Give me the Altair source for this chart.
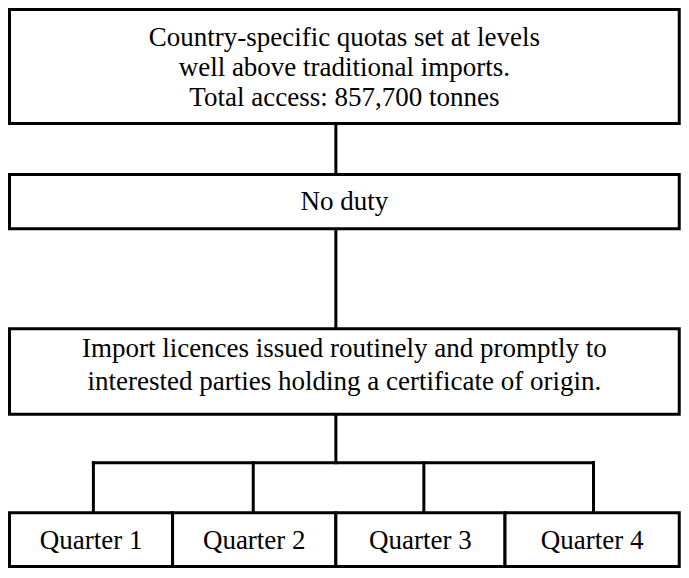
import altair as alt
import pandas as pd

# Boxes (reference pixel space)
box_names = ["top", "duty", "licence", "q1", "q2", "q3", "q4"]
box_x1 = [2.7, 2.7, 2.7, 2.7, 169.5, 336.5, 509.5]
box_x2 = [687.7, 687.7, 687.7, 169.5, 336.5, 509.5, 687.7]
box_y1 = [2.0, 172.0, 331.0, 520.5, 520.5, 520.5, 520.5]
box_y2 = [119.5, 228.0, 419.0, 576.0, 576.0, 576.0, 576.0]

# Connector lines
line_x1 = [336.5, 336.5, 336.5, 88.5, 88.5, 252.0, 426.5, 600.0]
line_x2 = [336.5, 336.5, 336.5, 600.0, 88.5, 252.0, 426.5, 600.0]
line_y1 = [119.5, 228.0, 419.0, 469.0, 469.0, 469.0, 469.0, 469.0]
line_y2 = [172.0, 331.0, 469.0, 469.0, 520.5, 520.5, 520.5, 520.5]

# Texts
labels = [
    "Country-specific quotas set at levels",
    "well above traditional imports.",
    "Total access:  857,700 tonnes",
    "No duty",
    "Import licences issued routinely and promptly to",
    "interested parties holding a certificate of origin.",
    "Quarter 1", "Quarter 2", "Quarter 3", "Quarter 4",
]
label_x = [345.2, 345.2, 345.2, 345.2, 345.2, 345.2, 86.1, 253.0, 423.0, 598.6]
label_y = [31.5, 62.5, 93.5, 200.0, 352.0, 386.0, 550.0, 550.0, 550.0, 550.0]

boxes = pd.DataFrame({"name": box_names, "x1": box_x1, "x2": box_x2, "y1": box_y1, "y2": box_y2})
lines = pd.DataFrame({"x1": line_x1, "x2": line_x2, "y1": line_y1, "y2": line_y2})
texts = pd.DataFrame({"label": labels, "x": label_x, "y": label_y})

xs = alt.Scale(domain=[1.17, 689.5])
ys = alt.Scale(domain=[0.46, 577.5], reverse=True)

rects = alt.Chart(boxes).mark_rect(fill="white", stroke="black", strokeWidth=3).encode(
    x=alt.X("x1:Q", scale=xs, axis=None),
    x2="x2:Q",
    y=alt.Y("y1:Q", scale=ys, axis=None),
    y2="y2:Q",
)

rules = alt.Chart(lines).mark_rule(color="black", strokeWidth=3, strokeCap="square").encode(
    x=alt.X("x1:Q", scale=xs, axis=None),
    x2="x2:Q",
    y=alt.Y("y1:Q", scale=ys, axis=None),
    y2="y2:Q",
)

txt = alt.Chart(texts).mark_text(
    font="Liberation Serif", fontSize=27, color="black", align="center", baseline="middle"
).encode(
    x=alt.X("x:Q", scale=xs, axis=None),
    y=alt.Y("y:Q", scale=ys, axis=None),
    text="label:N",
)

chart = alt.layer(rules, rects, txt).properties(
    width=673, height=560, padding=0,
    autosize=alt.AutoSizeParams(type="none"),
).configure_view(stroke=None)

chart.save("out.html", embed_options={"renderer": "svg", "actions": False})
